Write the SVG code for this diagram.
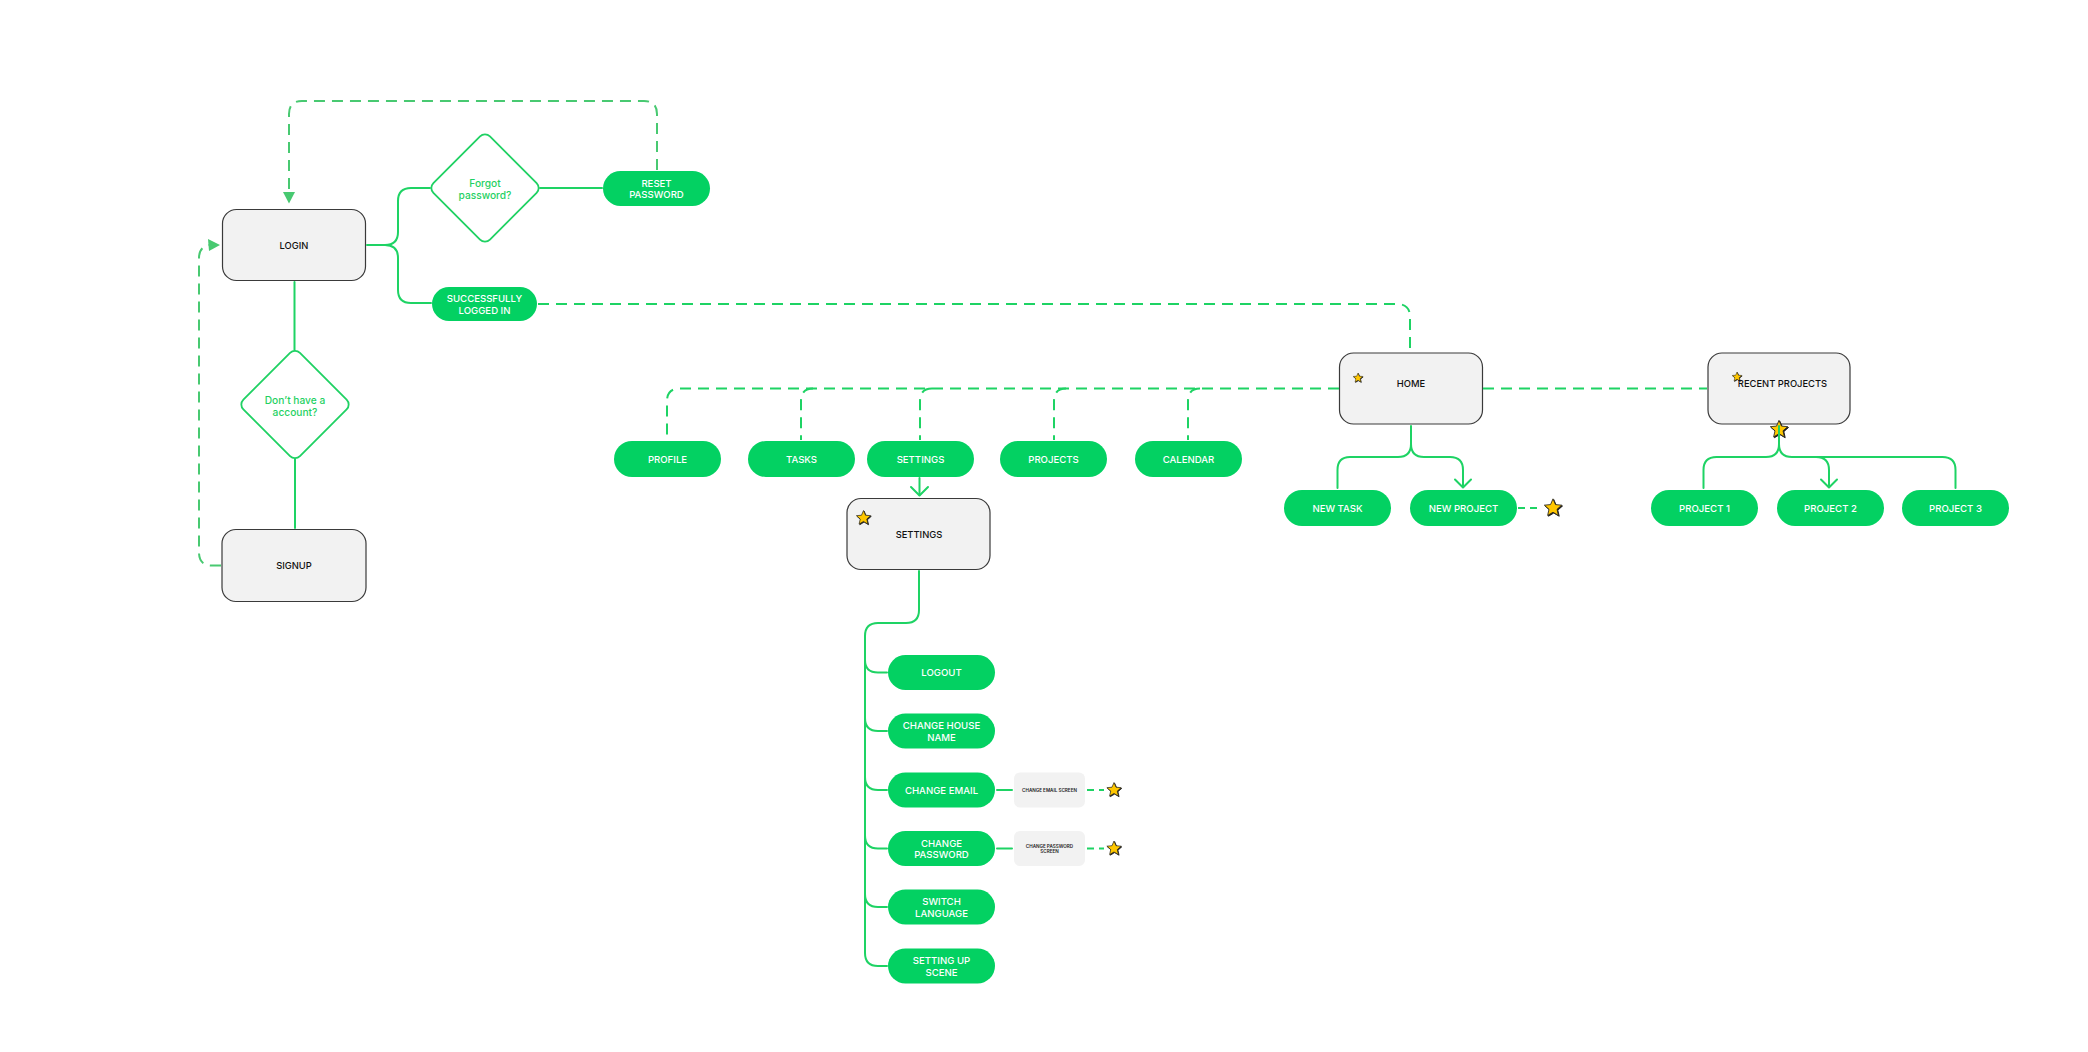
<svg xmlns="http://www.w3.org/2000/svg" width="2088" height="1052" viewBox="0 0 2088 1052">
<defs>
<style>
.bg{fill:#ffffff}
.box{fill:#f2f2f2;stroke:#3a3a3a;stroke-width:1.2}
.scr{fill:#f2f2f2}
.pill{fill:#03d162}
.dia{fill:#ffffff;stroke:#1fd163;stroke-width:1.8}
.pt{font-family:Inter,"Liberation Sans",sans-serif;font-size:9.6px;font-weight:500;fill:#ffffff;text-anchor:middle;dominant-baseline:central}
.bt{font-family:Inter,"Liberation Sans",sans-serif;font-size:9.4px;font-weight:500;fill:#111111;text-anchor:middle;dominant-baseline:central}
.dt{font-family:Inter,"Liberation Sans",sans-serif;font-size:10.2px;font-weight:500;fill:#1fd163;text-anchor:middle;dominant-baseline:central}
.st{font-family:Inter,"Liberation Sans",sans-serif;font-size:4.6px;font-weight:600;fill:#222222;text-anchor:middle;dominant-baseline:central}
.ln{fill:none;stroke:#1ed364;stroke-width:2;stroke-linecap:round}
.ds{fill:none;stroke:#1ed364;stroke-width:2;stroke-dasharray:11 7}
.dm{fill:none;stroke:#48c971;stroke-width:2;stroke-dasharray:11 7}
.ah{fill:#48c971}
.chev{fill:none;stroke:#1ed364;stroke-width:2;stroke-linecap:round;stroke-linejoin:round}
</style>
<symbol id="star" viewBox="-12 -12 24 24" overflow="visible">
<path d="M0,-10 L2.7,-3.72 L9.51,-3.09 L4.37,1.42 L5.88,8.09 L0,4.6 L-5.88,8.09 L-4.37,1.42 L-9.51,-3.09 L-2.7,-3.72 Z" transform="translate(0.9,0.9)" fill="#1a1a1a" stroke="#1a1a1a" stroke-width="1" stroke-linejoin="round"/>
<path d="M0,-10 L2.7,-3.72 L9.51,-3.09 L4.37,1.42 L5.88,8.09 L0,4.6 L-5.88,8.09 L-4.37,1.42 L-9.51,-3.09 L-2.7,-3.72 Z" fill="#ffc700" stroke="#222222" stroke-width="0.9" stroke-linejoin="round"/>
</symbol>
</defs>
<rect class="bg" x="0" y="0" width="2088" height="1052"/>

<g id="nodes">
<g id="login"><rect class="box" x="222.5" y="209.5" width="143" height="71" rx="14"/><text class="bt" x="294" y="245">LOGIN</text></g>
<g id="signup"><rect class="box" x="222" y="529.5" width="144" height="72" rx="14"/><text class="bt" x="294" y="565.5">SIGNUP</text></g>
<g id="forgot"><rect class="dia" x="445" y="148" width="80" height="80" rx="7" transform="rotate(45 485 188)"/><text class="dt" x="485" y="182.5">Forgot</text><text class="dt" x="485" y="194.5">password?</text></g>
<g id="noaccount"><rect class="dia" x="255" y="364.5" width="80" height="80" rx="7" transform="rotate(45 295 404.5)"/><text class="dt" x="295" y="399.5">Don’t have a</text><text class="dt" x="295" y="411.5">account?</text></g>
<g id="reset"><rect class="pill" x="603" y="171" width="107" height="35" rx="17.5"/><text class="pt" x="656.5" y="183">RESET</text><text class="pt" x="656.5" y="194.5">PASSWORD</text></g>
<g id="loggedin"><rect class="pill" x="432" y="287" width="105" height="34" rx="17"/><text class="pt" x="484.5" y="298.5">SUCCESSFULLY</text><text class="pt" x="484.5" y="310">LOGGED IN</text></g>

<g id="home"><rect class="box" x="1339.5" y="353" width="143" height="71" rx="14"/><use href="#star" x="1352" y="372" width="12" height="12"/><text class="bt" x="1411" y="383.5">HOME</text></g>
<g id="recent"><rect class="box" x="1708" y="353" width="142" height="71" rx="14"/><use href="#star" x="1731" y="371" width="12" height="12"/><text class="bt" x="1782.5" y="383.5">RECENT PROJECTS</text><use href="#star" x="1768" y="418.5" width="22" height="22"/></g>

<g id="profile"><rect class="pill" x="614" y="441" width="107" height="36" rx="18"/><text class="pt" x="667.5" y="459">PROFILE</text></g>
<g id="tasks"><rect class="pill" x="748" y="441" width="107" height="36" rx="18"/><text class="pt" x="801.5" y="459">TASKS</text></g>
<g id="settingsbtn"><rect class="pill" x="867" y="441" width="107" height="36" rx="18"/><text class="pt" x="920.5" y="459">SETTINGS</text></g>
<g id="projects"><rect class="pill" x="1000" y="441" width="107" height="36" rx="18"/><text class="pt" x="1053.5" y="459">PROJECTS</text></g>
<g id="calendar"><rect class="pill" x="1135" y="441" width="107" height="36" rx="18"/><text class="pt" x="1188.5" y="459">CALENDAR</text></g>

<g id="newtask"><rect class="pill" x="1284" y="490" width="107" height="36" rx="18"/><text class="pt" x="1337.5" y="508">NEW TASK</text></g>
<g id="newproject"><rect class="pill" x="1410" y="490" width="107" height="36" rx="18"/><text class="pt" x="1463.5" y="508">NEW PROJECT</text></g>
<g id="newprojectstar"><use href="#star" x="1542" y="497" width="22" height="22"/></g>
<g id="project1"><rect class="pill" x="1651" y="490" width="107" height="36" rx="18"/><text class="pt" x="1704.5" y="508">PROJECT 1</text></g>
<g id="project2"><rect class="pill" x="1777" y="490" width="107" height="36" rx="18"/><text class="pt" x="1830.5" y="508">PROJECT 2</text></g>
<g id="project3"><rect class="pill" x="1902" y="490" width="107" height="36" rx="18"/><text class="pt" x="1955.5" y="508">PROJECT 3</text></g>

<g id="settings"><rect class="box" x="847" y="498.5" width="143" height="71" rx="14"/><use href="#star" x="854.5" y="509" width="18" height="18"/><text class="bt" x="919" y="534">SETTINGS</text></g>
<g id="logout"><rect class="pill" x="888" y="655" width="107" height="35" rx="17.5"/><text class="pt" x="941.5" y="672.5">LOGOUT</text></g>
<g id="housename"><rect class="pill" x="888" y="713.5" width="107" height="35" rx="17.5"/><text class="pt" x="941.5" y="725.5">CHANGE HOUSE</text><text class="pt" x="941.5" y="737">NAME</text></g>
<g id="email"><rect class="pill" x="888" y="772.5" width="107" height="35" rx="17.5"/><text class="pt" x="941.5" y="790">CHANGE EMAIL</text></g>
<g id="password"><rect class="pill" x="888" y="831" width="107" height="35" rx="17.5"/><text class="pt" x="941.5" y="843">CHANGE</text><text class="pt" x="941.5" y="854.5">PASSWORD</text></g>
<g id="language"><rect class="pill" x="888" y="889.5" width="107" height="35" rx="17.5"/><text class="pt" x="941.5" y="901.5">SWITCH</text><text class="pt" x="941.5" y="913">LANGUAGE</text></g>
<g id="scene"><rect class="pill" x="888" y="948.5" width="107" height="35" rx="17.5"/><text class="pt" x="941.5" y="960.5">SETTING UP</text><text class="pt" x="941.5" y="972">SCENE</text></g>
<g id="emailscreen"><rect class="scr" x="1014" y="772.5" width="71" height="35" rx="6"/><text class="st" x="1049.5" y="790">CHANGE EMAIL SCREEN</text><use href="#star" x="1105" y="781" width="18" height="18"/></g>
<g id="passwordscreen"><rect class="scr" x="1014" y="831" width="71" height="35" rx="6"/><text class="st" x="1049.5" y="846">CHANGE PASSWORD</text><text class="st" x="1049.5" y="851.5">SCREEN</text><use href="#star" x="1105" y="839.5" width="18" height="18"/></g>
</g>

<g id="connectors">
<path class="ln" d="M367,245 H385 Q398,245 398,232 V201 Q398,188 411,188 H430"/>
<path class="ln" d="M385,245 Q398,245 398,258 V290 Q398,303 411,303 H431"/>
<path class="ln" d="M540,188 H602"/>
<path class="dm" d="M657,170 V114 Q657,101 644,101 H302 Q289,101 289,114 V192"/>
<polygon class="ah" points="283,192 295,192 289,203.5"/>
<path class="ln" d="M294.5,282 V350"/>
<path class="ln" d="M295,459 V528"/>
<path class="dm" d="M221,565.5 H212 Q199,565.5 199,552.5 V258 Q199,247 209,245"/>
<polygon class="ah" points="208,239 209,251 220,245"/>
<path class="ds" d="M538,304 H1397 Q1410,304 1410,317 V352"/>
<path class="ds" d="M1339,388.5 H680 Q667,388.5 667,401 V440"/>
<path class="ds" d="M813,388.5 Q801,388.5 801,401 V440"/>
<path class="ds" d="M932,388.5 Q920,388.5 920,401 V440"/>
<path class="ds" d="M1066,388.5 Q1054,388.5 1054,401 V440"/>
<path class="ds" d="M1200,388.5 Q1188,388.5 1188,401 V440"/>
<path class="ds" d="M1483,388.5 H1707"/>
<path class="ln" d="M919.5,478 V495"/>
<polyline class="chev" points="911,487 919.5,495.5 928,487"/>
<path class="ln" d="M919,571 V610 Q919,623 906,623 H878 Q865,623 865,636 V953 Q865,966 878,966 H887"/>
<path class="ln" d="M865,660 Q865,672.5 878,672.5 H887"/>
<path class="ln" d="M865,718 Q865,731 878,731 H887"/>
<path class="ln" d="M865,777 Q865,790 878,790 H887"/>
<path class="ln" d="M865,835.5 Q865,848.5 878,848.5 H887"/>
<path class="ln" d="M865,894 Q865,907 878,907 H887"/>
<path class="ln" d="M997,790 H1012"/>
<path class="ln" d="M997,848.5 H1012"/>
<path class="ds" d="M1087,790 H1104" style="stroke-dasharray:7 5"/>
<path class="ds" d="M1087,848.5 H1104" style="stroke-dasharray:7 5"/>
<path class="ds" d="M1518,508 H1541" style="stroke-dasharray:7 5"/>
<path class="ln" d="M1411,426 V444 Q1411,457 1398,457 H1350 Q1337.5,457 1337.5,470 V488"/>
<path class="ln" d="M1411,444 Q1411,457 1424,457 H1450 Q1463,457 1463,470 V487"/>
<polyline class="chev" points="1455,479.5 1463,487.5 1471,479.5"/>
<path class="ln" d="M1779,426 V444 Q1779,457 1766,457 H1716.5 Q1703.5,457 1703.5,470 V488"/>
<path class="ln" d="M1779,444 Q1779,457 1792,457 H1942.5 Q1955.5,457 1955.5,470 V488"/>
<path class="ln" d="M1816,457 Q1829,457 1829,470 V487"/>
<polyline class="chev" points="1821,479.5 1829,487.5 1837,479.5"/>
</g>
</svg>
